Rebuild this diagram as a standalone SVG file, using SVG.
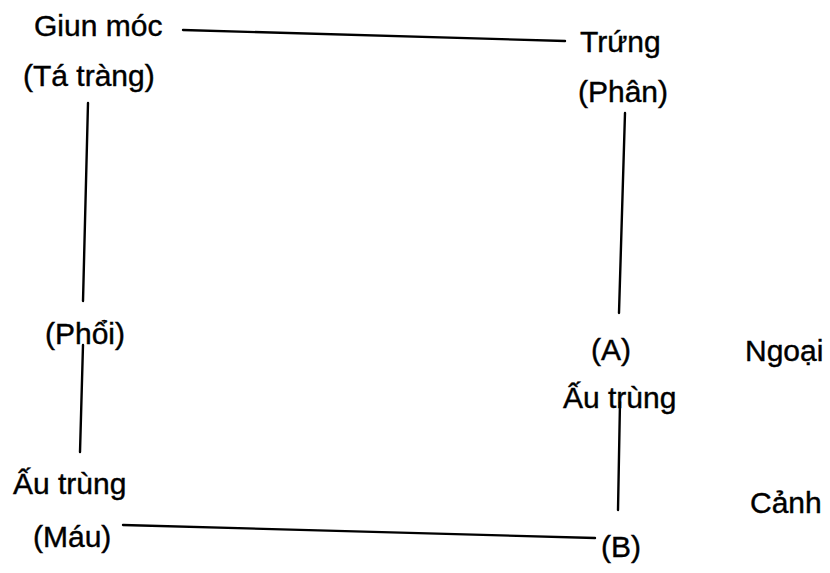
<svg xmlns="http://www.w3.org/2000/svg" width="830" height="573" viewBox="0 0 830 573">
<style>
text{font-family:"Liberation Sans",Arial,sans-serif;font-size:30px;fill:#000;stroke:#000;stroke-width:0.4}
.c line{stroke:#000;stroke-width:2.4;stroke-linecap:round}
</style>
<rect width="830" height="573" fill="#fff"/>
<g class="c" id="connectors">
<line x1="183" y1="30" x2="565" y2="41"/>
<line x1="625" y1="113" x2="619" y2="313"/>
<line x1="620" y1="402" x2="618" y2="510"/>
<line x1="123" y1="525" x2="595" y2="538"/>
<line x1="83" y1="345" x2="80" y2="452"/>
<line x1="88" y1="103" x2="83" y2="301"/>
</g>
<g id="giun-moc"><text x="34" y="36">Giun móc</text><text x="23" y="86">(Tá tràng)</text></g>
<g id="trung"><text x="580" y="52">Trứng</text><text x="578" y="102">(Phân)</text></g>
<g id="a-au-trung"><text x="591" y="360">(A)</text><text x="563" y="408">Ấu trùng</text></g>
<g id="b"><text x="601" y="557">(B)</text></g>
<g id="au-trung-mau"><text x="13" y="494">Ấu trùng</text><text x="33" y="547">(Máu)</text></g>
<g id="phoi"><text x="45" y="344">(Phổi)</text></g>
<g id="ngoai-canh"><text x="745" y="361">Ngoại</text><text x="750" y="513">Cảnh</text></g>
</svg>
